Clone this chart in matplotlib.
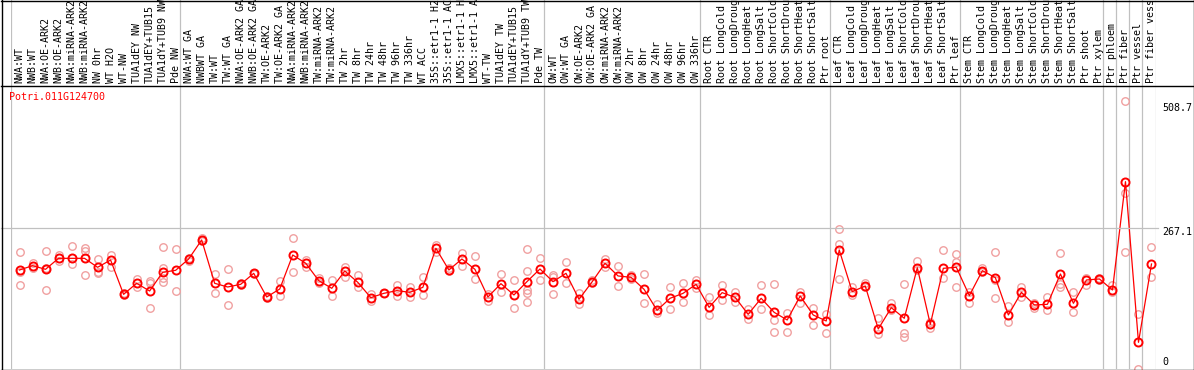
import matplotlib
matplotlib.use("Agg")
import matplotlib.pyplot as plt
from matplotlib.lines import Line2D

# ---------------- data ----------------
gene_name = "Potri.011G124700"

sample_labels = [
    "NWA:WT", "NWB:WT", "NWA:OE-ARK2", "NWB:OE-ARK2", "NWA:miRNA-ARK2", "NWB:miRNA-ARK2",
    "NW 0hr", "WT H2O", "WT-NW", "TUA1dEY NW", "TUA1dEY+TUB15", "TUA1dY+TUB9 NW", "Pde NW",
    "NWA:WT GA", "NWBWT GA", "TW:WT", "TW:WT GA", "NWA:OE-ARK2 GA", "NWB:OE-ARK2 GA",
    "TW:OE-ARK2", "TW:OE-ARK2 GA", "NWA:miRNA-ARK2", "NWB:miRNA-ARK2", "TW:miRNA-ARK2",
    "TW:miRNA-ARK2", "TW 2hr", "TW 8hr", "TW 24hr", "TW 48hr", "TW 96hr", "TW 336hr",
    "WT ACC", "35S::etr1-1 H2", "35S::etr1-1 AC", "LMX5::etr1-1 H", "LMX5::etr1-1 A",
    "WT-TW", "TUA1dEY TW", "TUA1dEY+TUB15", "TUA1dY+TUB9 TW", "Pde TW",
    "OW:WT", "OW:WT GA", "OW:OE-ARK2", "OW:OE-ARK2 GA", "OW:miRNA-ARK2", "OW:miRNA-ARK2",
    "OW 2hr", "OW 8hr", "OW 24hr", "OW 48hr", "OW 96hr", "OW 336hr",
    "Root CTR", "Root LongCold", "Root LongDroug", "Root LongHeat", "Root LongSalt",
    "Root ShortCold", "Root ShortDrou", "Root ShortHeat", "Root ShortSalt", "Ptr root",
    "Leaf CTR", "Leaf LongCold", "Leaf LongDroug", "Leaf LongHeat", "Leaf LongSalt",
    "Leaf ShortCold", "Leaf ShortDrou", "Leaf ShortHeat", "Leaf ShortSalt", "Ptr leaf",
    "Stem CTR", "Stem LongCold", "Stem LongDroug", "Stem LongHeat", "Stem LongSalt",
    "Stem ShortCold", "Stem ShortDrou", "Stem ShortHeat", "Stem ShortSalt", "Ptr shoot",
    "Ptr xylem", "Ptr phloem", "Ptr fiber", "Ptr vessel", "Ptr fiber vess",
]

mean_values = [
    188.1, 196.3, 189.4, 210.2, 210.2, 210.2, 193.2, 207.0, 142.0, 162.9,
    148.3, 183.7, 187.5, 208.9, 245.0, 162.9, 155.9, 161.0, 181.8, 137.0,
    152.1, 216.5, 200.8, 167.9, 153.4, 186.2, 164.7, 135.7, 143.9, 149.0,
    145.8, 155.3, 229.2, 188.1, 208.9, 189.4, 137.0, 162.2, 140.8, 166.0,
    190.0, 166.0, 181.8, 132.6, 165.4, 200.8, 176.8, 174.2, 151.5, 111.7,
    134.5, 143.9, 161.0, 117.4, 145.2, 136.3, 104.1, 134.5, 107.9, 93.4,
    138.9, 102.9, 91.5, 226.0, 147.1, 157.8, 76.4, 116.8, 96.6, 192.5,
    85.2, 191.3, 193.2, 139.5, 186.8, 173.6, 102.9, 145.8, 121.8, 123.1,
    180.6, 125.0, 169.2, 171.1, 150.2, 355.4, 51.1, 199.5,
]

replicate_values = [
    [221.6, 185.0, 159.7], [202.0, 191.3], [224.1, 192.5, 150.2], [216.5, 205.8],
    [233.6, 198.8], [230.4, 224.1, 178.7], [208.9, 185.0, 181.8], [216.5, 194.4],
    [143.9, 141.0], [170.4, 156.5], [167.3, 162.9, 115.5], [231.7, 191.3, 173.6, 166.0],
    [227.9, 148.3], [205.8, 211.0], [248.1, 243.0], [180.6, 143.9], [190.0, 121.8],
    [162.9, 159.5], [181.8, 180.0], [134.5, 138.5], [167.3, 138.9], [248.1, 183.7],
    [207.0, 194.4], [173.6, 164.1], [169.2, 138.9], [194.4, 175.5], [178.7, 156.5],
    [142.0, 130.0], [143.9, 144.5], [159.7, 139.5], [155.3, 136.3], [174.2, 140.8],
    [235.5, 221.6], [191.3, 186.0], [219.7, 196.3], [214.0, 170.4], [142.7, 129.4],
    [180.6, 145.8], [169.2, 115.5], [227.9, 186.2, 150.2, 143.9, 126.9], [210.8, 169.2],
    [178.7, 175.5, 142.0], [203.3, 162.9], [143.9, 123.1], [169.2, 163.0],
    [208.9, 194.4], [195.7, 157.8], [178.7, 171.0], [180.6, 125.0], [123.7, 106.0],
    [155.3, 114.3], [162.9, 128.2], [169.2, 153.4], [136.3, 102.9], [159.7, 131.3],
    [147.1, 128.2], [114.3, 94.7], [159.7, 114.3], [161.0, 92.8, 71.3], [107.3, 70.1],
    [147.1, 125.0], [116.8, 83.9], [104.1, 68.2], [265.2, 237.4, 170.4], [156.5, 140.8],
    [164.1, 155.0], [96.6, 66.3], [125.0, 112.0], [161.0, 68.2, 60.6], [205.2, 188.1],
    [90.3, 78.9], [226.0, 173.6], [218.4, 203.9, 155.3], [147.1, 125.0], [191.3, 185.0],
    [221.6, 169.2, 135.7], [120.6, 89.0], [156.5, 136.3], [125.0, 115.5], [137.6, 112.4],
    [219.7, 161.0, 156.5], [145.8, 109.2], [173.6, 159.7], [172.3, 170.0],
    [159.7, 147.1], [508.7, 333.3, 221.6], [104.1, 0.0], [231.1, 174.2],
]

group_breaks = [0, 13, 41, 53, 63, 73, 84, 85, 86, 87, 88]
axis_ticks = [0, 267.1, 508.7]

# ---------------- layout (pixels) ----------------
W, H = 1194, 370
X0, X1 = 10.5, 1155.5      # data-area horizontal span
Y_TOP, Y_BOT = 85.0, 369.3  # plot area vertical span
Y_MAX = 538.5
POS_OFF = 9.0 / 13.0

fig = plt.figure(figsize=(W / 100, H / 100), dpi=100)
fig.patch.set_facecolor("white")

def fx(px):
    return px / W

def fy(py):
    return 1 - py / H

mono = "DejaVu Sans Mono"
fs = 7.2

ax = fig.add_axes([fx(X0), fy(Y_BOT), (X1 - X0) / W, (Y_BOT - Y_TOP) / H])
ax.set_xlim(0, len(sample_labels))
ax.set_ylim(0, Y_MAX)
ax.axis("off")

hx = fig.add_axes([fx(X0), fy(Y_TOP), (X1 - X0) / W, Y_TOP / H])
hx.set_xlim(0, len(sample_labels))
hx.set_ylim(0, Y_TOP)
hx.axis("off")

grid_c = "#c0c0c0"
for b in group_breaks:
    ax.axvline(b, color=grid_c, lw=0.9, zorder=1)
    hx.axvline(b, color=grid_c, lw=0.9, zorder=1)

# horizontal grid line at the middle tick
gy = fy(Y_BOT - (Y_BOT - Y_TOP) * axis_ticks[1] / Y_MAX)
fig.add_artist(Line2D([fx(1), fx(1158)], [gy, gy], color=grid_c, lw=0.9, zorder=1))

xs = [i + POS_OFF for i in range(len(sample_labels))]

# sample labels
for x, lab in zip(xs, sample_labels):
    hx.text(x, Y_TOP - 83, lab, rotation=90, ha="center", va="bottom",
            fontsize=fs, family=mono, color="black", clip_on=True)

# replicates
rx, ry = [], []
for x, reps in zip(xs, replicate_values):
    for r in reps:
        rx.append(x)
        ry.append(r)
ax.plot(rx, ry, linestyle="none", marker="o", markersize=5.4, mfc="none",
        mec="#f0a0a0", mew=1.0, zorder=2, clip_on=False)

# mean line and markers
ax.plot(xs, mean_values, color="#ff0000", lw=0.9, zorder=3, clip_on=False)
ax.plot(xs, mean_values, linestyle="none", marker="o", markersize=5.8, mfc="none",
        mec="#ff0000", mew=1.4, zorder=4, clip_on=False)

# gene title
fig.text(fx(9), fy(97.5), gene_name, color="#ff0000", family=mono, fontsize=fs,
         ha="left", va="center")

# right-side value labels
def val_to_py(v):
    return Y_BOT - (Y_BOT - Y_TOP) * v / Y_MAX

fig.text(fx(1162), fy(val_to_py(axis_ticks[2]) + 2), "508.7", family=mono, fontsize=fs,
         ha="left", va="top")
fig.text(fx(1162), fy(val_to_py(axis_ticks[1]) - 1), "267.1", family=mono, fontsize=fs,
         ha="left", va="top")
fig.text(fx(1162), fy(val_to_py(axis_ticks[0]) - 2), "0", family=mono, fontsize=fs,
         ha="left", va="bottom")

# black frame lines
blk = dict(color="black", lw=1.0, zorder=10)
fig.add_artist(Line2D([fx(0.5), fx(1193.5)], [fy(0.5), fy(0.5)], **blk))
fig.add_artist(Line2D([fx(0.5), fx(1193.5)], [fy(85.5), fy(85.5)], **blk))
fig.add_artist(Line2D([fx(0.5), fx(1193.5)], [fy(369.5), fy(369.5)], **blk))
fig.add_artist(Line2D([fx(1.5), fx(1.5)], [fy(0), fy(370)], **blk))
fig.add_artist(Line2D([fx(1193.5), fx(1193.5)], [fy(0), fy(370)], **blk))

fig.savefig("out.png", dpi=100, facecolor="white")
